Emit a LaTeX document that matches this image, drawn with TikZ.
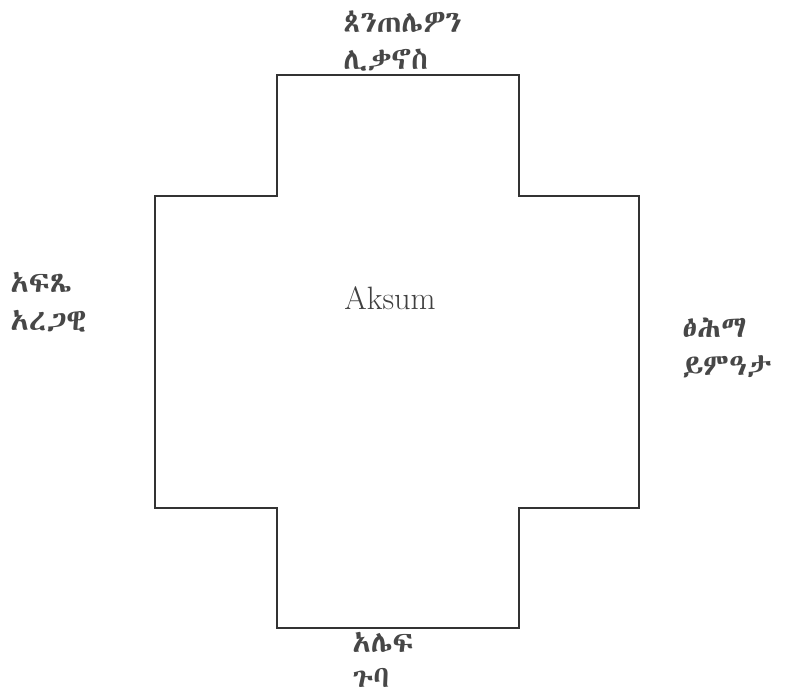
\documentclass[tikz,border=0pt]{standalone}
\usepackage{fontspec}
\IfFontExistsTF{Abyssinica SIL}{\newfontfamily\ethfont{Abyssinica SIL}}{%
  \IfFontExistsTF{Noto Sans Ethiopic}{\newfontfamily\ethfont{Noto Sans Ethiopic}}{%
    \newfontfamily\ethfont{DejaVu Sans}}}
\tikzset{
  wall/.style={line width=0.8pt, black!80},
  church/.style={font=\ethfont\fontsize{21.5}{27}\selectfont, align=left, anchor=north west, inner sep=0pt, text=black!72},
  city/.style={font=\fontsize{23}{27}\selectfont, text=black!75}
}
\begin{document}
\begin{tikzpicture}[x=0.025cm, y=-0.025cm]
    \useasboundingbox (0,0) rectangle (787,699);

    % Cross-shaped outline
    \draw[wall] (277,75) -- (519,75) -- (519,196) -- (639,196) -- (639,508)
        -- (519,508) -- (519,628) -- (277,628) -- (277,508) -- (155,508)
        -- (155,196) -- (277,196) -- cycle;

    % Town in the middle
    \node[city] (aksum) at (390,298) {Aksum};

    % Churches round it
    \node[church] (north) at (343,10) {ጰንጠሌዎን\\ሊቃኖስ};
    \node[church] (west) at (10,272) {አፍጼ\\አረጋዊ};
    \node[church] (east) at (682,318) {ፅሕማ\\ይምዓታ};
    \node[church] (south) at (352,632) {አሌፍ\\[-2pt]ጉባ};
\end{tikzpicture}
\end{document}
